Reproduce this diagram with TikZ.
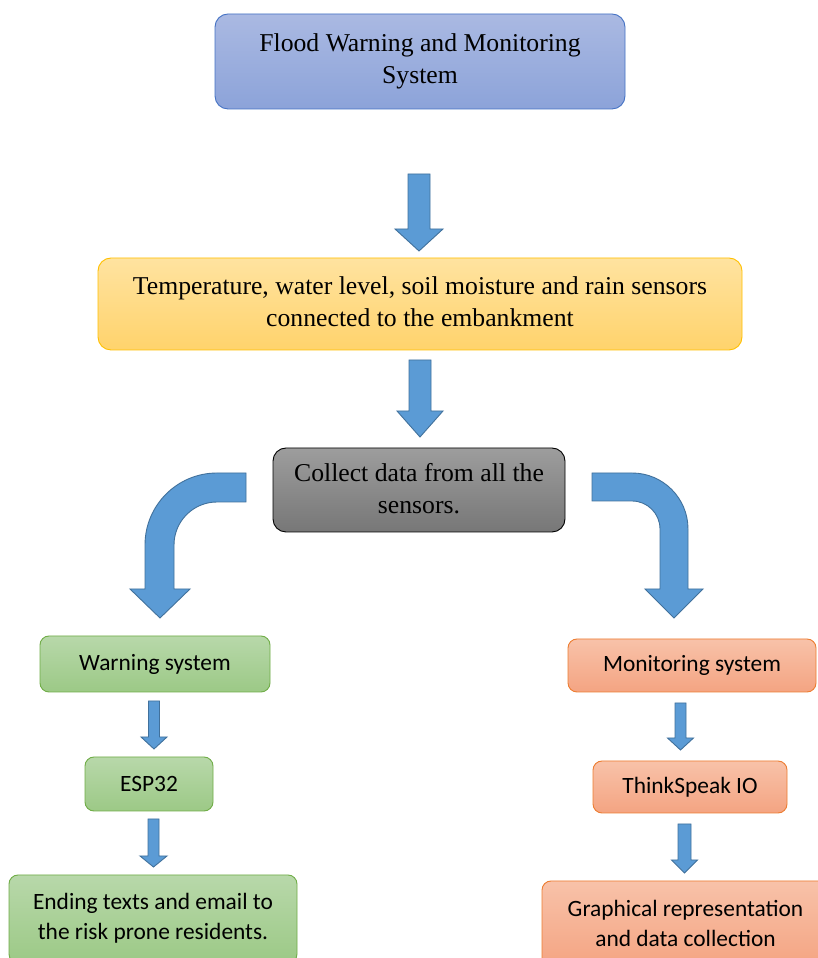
\documentclass[tikz,border=0pt]{standalone}
\usepackage{fontspec}
\usetikzlibrary{calc}
\setmainfont{LiberationSerif-Regular.ttf}
\setsansfont{Carlito}
\definecolor{arrfill}{HTML}{5B9BD5}
\definecolor{arrdraw}{HTML}{41719C}
\definecolor{bluetop}{HTML}{AAB9E2}
\definecolor{bluebot}{HTML}{8CA3D9}
\definecolor{blueline}{HTML}{4472C4}
\definecolor{yeltop}{HTML}{FFE3A0}
\definecolor{yelbot}{HTML}{FFD36C}
\definecolor{yelline}{HTML}{FFC000}
\definecolor{graytop}{HTML}{9D9D9D}
\definecolor{graybot}{HTML}{777777}
\definecolor{grntop}{HTML}{B8D8AA}
\definecolor{grnbot}{HTML}{9CC986}
\definecolor{grnline}{HTML}{70AD47}
\definecolor{orgtop}{HTML}{F8C2A9}
\definecolor{orgbot}{HTML}{F4A482}
\definecolor{orgline}{HTML}{ED7D31}
\tikzset{
  boxbase/.style={rectangle, inner sep=0pt, align=center, line width=0.9pt},
  serifbox/.style={boxbase, rounded corners=13pt},
  sansbox/.style={boxbase, rounded corners=9pt, font=\sffamily\fontsize{23.4}{30}\selectfont},
  serifline/.style={inner sep=0pt, anchor=base, font=\rmfamily\fontsize{25.7}{32}\selectfont},
  sansline/.style={inner sep=0pt, anchor=base, font=\sffamily\fontsize{23.4}{30}\selectfont},
  bluebox/.style={serifbox, draw=blueline, top color=bluetop, bottom color=bluebot},
  yelbox/.style={serifbox, draw=yelline, top color=yeltop, bottom color=yelbot},
  graybox/.style={serifbox, draw=black, top color=graytop, bottom color=graybot},
  grnbox/.style={sansbox, draw=grnline, top color=grntop, bottom color=grnbot},
  orgbox/.style={sansbox, draw=orgline, top color=orgtop, bottom color=orgbot},
  blockarrow/.style={fill=arrfill, draw=arrdraw, line width=0.9pt, line join=miter}
}
% cx, ytop, yhead, ytip, shaft half width, head half width
\newcommand\dnarrow[6]{%
  \draw[blockarrow] ({#1-#5},#2) -- ({#1+#5},#2) -- ({#1+#5},#3) -- ({#1+#6},#3)
    -- (#1,#4) -- ({#1-#6},#3) -- ({#1-#5},#3) -- cycle;}
\begin{document}
\begin{tikzpicture}[x=1pt,y=1pt]
\useasboundingbox (0,0) rectangle (818,958);
\clip (0,0) rectangle (818,958);
\fill[white] (0,0) rectangle (818,958);

% boxes
\node[bluebox, minimum width=410pt, minimum height=95pt] (top) at (420,896.5) {};
\node[serifline] (top1) at ($(top.center)+(0,9.6)$) {Flood Warning and Monitoring};
\node[serifline] (top2) at ($(top.center)+(0,-22.4)$) {System};

\node[yelbox, minimum width=644pt, minimum height=92pt] (sens) at (420,654) {};
\node[serifline] (sens1) at ($(sens.center)+(0,9.6)$) {Temperature, water level, soil moisture and rain sensors};
\node[serifline] (sens2) at ($(sens.center)+(0,-22.4)$) {connected to the embankment};

\node[graybox, minimum width=292pt, minimum height=84pt] (coll) at (419,468) {};
\node[serifline] (coll1) at ($(coll.center)+(0,8.6)$) {Collect data from all the};
\node[serifline] (coll2) at ($(coll.center)+(0,-23.4)$) {sensors.};

\node[grnbox, minimum width=230pt, minimum height=56pt] (warn) at (155,294)
  {Warning system};
\node[grnbox, minimum width=128pt, minimum height=54pt] (esp) at (149,174)
  {ESP32};
\node[grnbox, minimum width=288pt, minimum height=88pt] (send) at (153,39) {};
\node[sansline] (send1) at ($(send.center)+(0,9)$) {Ending texts and email to};
\node[sansline] (send2) at ($(send.center)+(0,-21)$) {the risk prone residents.};

\node[orgbox, minimum width=248pt, minimum height=53pt] (mon) at (692,292.5)
  {Monitoring system};
\node[orgbox, minimum width=194pt, minimum height=52pt] (think) at (690,171)
  {ThinkSpeak IO};
\node[orgbox, minimum width=287pt, minimum height=86pt] (graph) at (685.5,34) {};
\node[sansline] (graph1) at ($(graph.center)+(0,7)$) {Graphical representation};
\node[sansline] (graph2) at ($(graph.center)+(0,-23)$) {and data collection};

% straight block arrows
\dnarrow{419}{784}{729}{707}{11}{24}
\dnarrow{420}{598}{547}{521}{11}{23}
\dnarrow{154}{257}{221}{209}{5.5}{13}
\dnarrow{153.5}{139}{102}{91}{5.5}{13.5}
\dnarrow{680.5}{255}{220}{208}{5.5}{13}
\dnarrow{684.5}{134}{98}{85}{6.5}{13}

% curved block arrows
\draw[blockarrow] (246,485) -- (217,485) arc[start angle=90, end angle=180, radius=72pt]
  -- (145,369) -- (130,369) -- (160,340) -- (190,369) -- (174,369) -- (174,413)
  arc[start angle=180, end angle=90, radius=43pt] -- (246,456) -- cycle;
\draw[blockarrow] (592,485) -- (632,485) arc[start angle=90, end angle=0, radius=56pt]
  -- (688,369) -- (703,369) -- (674,340) -- (645,369) -- (660,369) -- (660,429)
  arc[start angle=0, end angle=90, radius=28pt] -- (592,457) -- cycle;
\end{tikzpicture}
\end{document}
